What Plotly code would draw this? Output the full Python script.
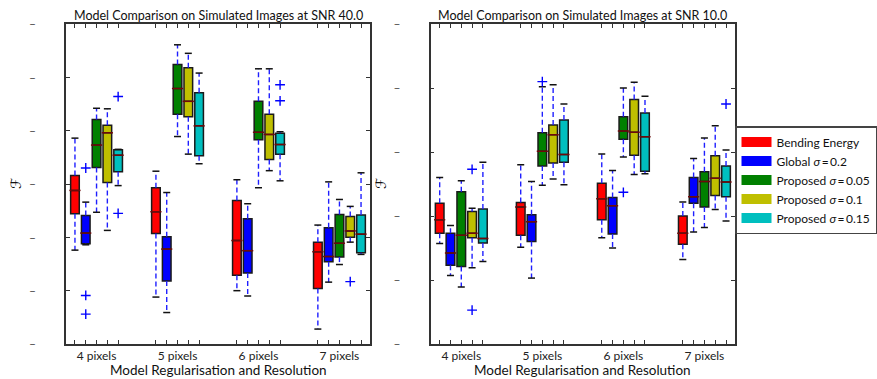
import plotly.graph_objects as go

# ---------------- data ----------------
categories = ["4 pixels", "5 pixels", "6 pixels", "7 pixels"]
series_names = [
    "Bending Energy",
    "Global <i>σ</i>\u2009=\u20090.2",
    "Proposed <i>σ</i>\u2009=\u20090.05",
    "Proposed <i>σ</i>\u2009=\u20090.1",
    "Proposed <i>σ</i>\u2009=\u20090.15",
]
series_colors = ["#ff0000", "#0000ff", "#008000", "#bfbf00", "#00bfbf"]
panel_titles = [
    "Model Comparison on Simulated Images at SNR 40.0",
    "Model Comparison on Simulated Images at SNR 10.0",
]
x_title = "Model Regularisation and Resolution"
y_title = "ℱ"

# SNR 40 panel (rows = series, cols = categories)
snr40_upper = [[3.86, 3.24, 3.08, 2.23], [2.66, 2.84, 2.63, 3.04], [4.42, 5.61, 5.16, 2.71],
               [4.41, 5.45, 5.16, 2.58], [3.65, 5.08, 3.98, 3.21]]
snr40_q3 = [[3.16, 2.93, 2.69, 1.91], [2.41, 2.01, 2.35, 2.18], [4.21, 5.24, 4.55, 2.43],
            [4.10, 5.18, 4.31, 2.39], [3.64, 4.71, 3.95, 2.42]]
snr40_median = [[2.88, 2.48, 1.94, 1.73], [2.08, 1.78, 1.75, 1.64], [3.73, 4.79, 3.97, 1.89],
                [3.96, 4.55, 3.93, 2.12], [3.54, 4.09, 3.74, 2.06]]
snr40_q1 = [[2.44, 2.07, 1.29, 1.04], [1.88, 1.18, 1.33, 1.54], [3.31, 4.31, 3.83, 1.63],
            [3.03, 4.26, 3.46, 2.00], [3.23, 3.53, 3.56, 1.71]]
snr40_lower = [[1.76, 0.88, 1.00, 0.28], [1.86, 0.59, 0.90, 1.16], [2.47, 3.89, 2.93, 1.49],
               [2.13, 3.56, 3.25, 1.91], [2.97, 3.38, 3.06, 1.68]]
# outliers: (series index, category index, value)
snr40_outliers = [(1, 0, 3.30), (1, 0, 0.91), (1, 0, 0.56), (4, 0, 4.64), (4, 0, 2.45),
                  (4, 2, 4.86), (4, 2, 4.56), (3, 3, 1.17)]

# SNR 10 panel
snr10_upper = [[2.60, 2.80, 2.97, 2.22], [1.85, 2.54, 2.71, 2.90], [2.55, 4.02, 4.00, 3.22],
               [2.12, 4.05, 4.09, 3.41], [2.84, 3.75, 3.87, 3.03]]
snr10_q3 = [[2.20, 2.21, 2.51, 2.00], [1.73, 2.02, 2.29, 2.60], [2.38, 3.30, 3.55, 2.69],
            [2.07, 3.42, 3.82, 2.94], [2.11, 3.50, 3.61, 2.78]]
snr10_median = [[1.94, 2.14, 2.27, 1.73], [1.42, 1.91, 2.16, 2.30], [1.70, 3.01, 3.33, 2.54],
                [1.73, 3.27, 3.31, 2.59], [1.65, 2.96, 3.24, 2.53]]
snr10_q1 = [[1.73, 1.70, 1.94, 1.56], [1.23, 1.60, 1.72, 2.20], [1.21, 2.78, 3.20, 2.14],
            [1.66, 2.83, 2.95, 2.32], [1.58, 2.84, 2.70, 2.30]]
snr10_lower = [[1.57, 1.51, 1.66, 1.32], [1.07, 1.03, 1.50, 1.75], [0.89, 2.48, 2.92, 1.82],
               [1.19, 2.58, 2.65, 2.10], [1.29, 2.49, 2.66, 1.92]]
snr10_outliers = [(3, 0, 2.73), (3, 0, 0.53), (2, 1, 4.10), (2, 2, 2.37), (4, 3, 3.75)]

snr40_yticks = [0, 1, 2, 3, 4, 5, 6]
snr10_yticks = [0, 1, 2, 3, 4, 5]
ytick_mark = "–"

# ---------------- figure ----------------
W, H = 877, 379
GROUP_STEP = 7.5
N_SER = len(series_names)
FONT = "Lato, DejaVu Sans, sans-serif"
AX_COLOR = "#333333"

def pos(c, s):
    return c * GROUP_STEP + s

panels = [
    dict(upper=snr40_upper, q3=snr40_q3, median=snr40_median, q1=snr40_q1, lower=snr40_lower,
         outliers=snr40_outliers, yticks=snr40_yticks, xa="x", ya="y"),
    dict(upper=snr10_upper, q3=snr10_q3, median=snr10_median, q1=snr10_q1, lower=snr10_lower,
         outliers=snr10_outliers, yticks=snr10_yticks, xa="x2", ya="y2"),
]

fig = go.Figure()

for p in panels:
    wx, wy, cx, cy, mx, my = [], [], [], [], [], []
    for s in range(N_SER):
        for c in range(len(categories)):
            x0 = pos(c, s)
            wx += [x0, x0, None, x0, x0, None]
            wy += [p["q3"][s][c], p["upper"][s][c], None, p["q1"][s][c], p["lower"][s][c], None]
            cx += [x0, x0]
            cy += [p["upper"][s][c], p["lower"][s][c]]
            mx.append(x0)
            my.append(p["median"][s][c])
    # boxes
    for s in range(N_SER):
        xs = [pos(c, s) for c in range(len(categories))]
        fig.add_trace(go.Box(
            x=xs, q1=p["q1"][s], median=p["median"][s], q3=p["q3"][s],
            lowerfence=p["q1"][s], upperfence=p["q3"][s],
            width=0.8, whiskerwidth=0, boxpoints=False,
            fillcolor=series_colors[s], line=dict(color="#1a1a1a", width=1.5),
            showlegend=False, hoverinfo="skip", xaxis=p["xa"], yaxis=p["ya"]))
    # whiskers
    fig.add_trace(go.Scatter(
        x=wx, y=wy, mode="lines", line=dict(color="#1f1fff", width=1.4, dash="5px,3px"),
        showlegend=False, hoverinfo="skip", xaxis=p["xa"], yaxis=p["ya"]))
    # caps
    fig.add_trace(go.Scatter(
        x=cx, y=cy, mode="markers",
        marker=dict(symbol="line-ew", size=5, line=dict(color="#111111", width=1.5)),
        showlegend=False, hoverinfo="skip", xaxis=p["xa"], yaxis=p["ya"]))
    # medians
    fig.add_trace(go.Scatter(
        x=mx, y=my, mode="markers",
        marker=dict(symbol="line-ew", size=8, line=dict(color="#6e0a0a", width=1.5)),
        showlegend=False, hoverinfo="skip", xaxis=p["xa"], yaxis=p["ya"]))
    # outliers
    fig.add_trace(go.Scatter(
        x=[pos(c, s) for s, c, v in p["outliers"]], y=[v for s, c, v in p["outliers"]],
        mode="markers",
        marker=dict(symbol="cross-thin", size=7, line=dict(color="#0000ff", width=1.4)),
        showlegend=False, hoverinfo="skip", xaxis=p["xa"], yaxis=p["ya"]))

# legend entries
for s in range(N_SER):
    fig.add_trace(go.Scatter(
        x=[None], y=[None], mode="lines", name=series_names[s],
        line=dict(color=series_colors[s], width=10), xaxis="x2", yaxis="y2"))

xtick_vals = [pos(c, s) for c in range(len(categories)) for s in range(N_SER)]
xtick_text = [categories[c] if s == N_SER // 2 else "" for c in range(len(categories)) for s in range(N_SER)]
xrange = [-0.83, pos(len(categories) - 1, N_SER - 1) + 0.83]

ydom = [1 - 344 / H, 1 - 24 / H]
xdoms = [[66 / W, 370 / W], [430.7 / W, 735 / W]]

def xaxis_cfg(dom, anchor):
    return dict(domain=dom, anchor=anchor, range=xrange, tickmode="array",
                tickvals=xtick_vals, ticktext=xtick_text, ticks="inside", ticklen=4,
                tickwidth=1, tickcolor=AX_COLOR, showline=True, linecolor=AX_COLOR,
                linewidth=1.5, mirror="ticks", showgrid=False, zeroline=False,
                tickfont=dict(size=12, color="#222222", family=FONT), automargin=False)

def yaxis_cfg(ticks, anchor):
    return dict(domain=ydom, anchor=anchor, range=[ticks[0], ticks[-1]], tickmode="array",
                tickvals=ticks, ticktext=[ytick_mark] * len(ticks), ticks="inside", ticklen=4,
                tickwidth=1, tickcolor=AX_COLOR, showline=True, linecolor=AX_COLOR,
                linewidth=1.5, mirror="ticks", showgrid=False, zeroline=False,
                ticklabelstandoff=26,
                tickfont=dict(size=12, color="#444444", family=FONT), automargin=False)

annotations = []
for i, t in enumerate(panel_titles):
    xc = (xdoms[i][0] + xdoms[i][1]) / 2
    annotations.append(dict(text=t, x=xc, y=1 - 15 / H, xref="paper", yref="paper",
                            xanchor="center", yanchor="middle", showarrow=False,
                            font=dict(size=12.5, color="#111111", family=FONT)))
    annotations.append(dict(text=x_title, x=xc, y=1 - 370 / H, xref="paper", yref="paper",
                            xanchor="center", yanchor="middle", showarrow=False,
                            font=dict(size=13.5, color="#111111", family=FONT)))
for xpix in [16, 381]:
    annotations.append(dict(text=y_title, x=xpix / W, y=1 - 184 / H, xref="paper", yref="paper",
                            xanchor="center", yanchor="middle", showarrow=False, textangle=-90,
                            font=dict(size=14, color="#111111", family="DejaVu Serif, DejaVu Sans")))

fig.update_layout(
    width=W, height=H,
    margin=dict(l=0, r=0, t=0, b=0, autoexpand=False),
    paper_bgcolor="white", plot_bgcolor="white",
    boxmode="overlay",
    xaxis=xaxis_cfg(xdoms[0], "y"), yaxis=yaxis_cfg(snr40_yticks, "x"),
    xaxis2=xaxis_cfg(xdoms[1], "y2"), yaxis2=yaxis_cfg(snr10_yticks, "x2"),
    annotations=annotations,
    legend=dict(x=735 / W, y=1 - 126 / H, xanchor="left", yanchor="top",
                bordercolor="#444444", borderwidth=1.5, bgcolor="white",
                font=dict(size=12, color="#111111", family=FONT), itemwidth=30,
                tracegroupgap=0),
    showlegend=True,
)

fig.write_html("out.html", config={"displayModeBar": False},
               post_script="document.body.style.margin='0px';document.body.style.overflow='hidden';")
